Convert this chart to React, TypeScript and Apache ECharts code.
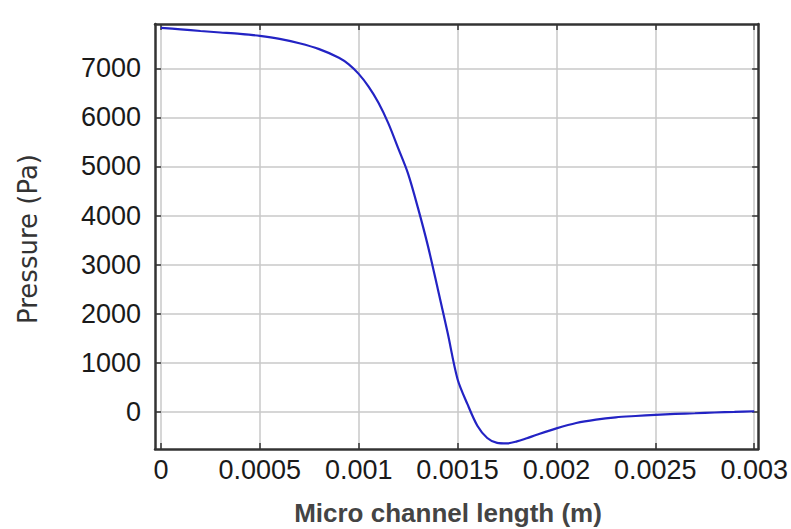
import { useEffect, useRef } from "react";
import * as echarts from "echarts";

// Pressure along the micro channel (position in m, pressure in Pa)
const lengthM = [
  0, 0.0001, 0.0002, 0.0003, 0.0004, 0.0005, 0.0006, 0.0007, 0.0008, 0.0009,
  0.00095, 0.001, 0.00105, 0.0011, 0.00115, 0.0012, 0.00125, 0.0013, 0.00135,
  0.0014, 0.00145, 0.0015, 0.00155, 0.0016, 0.00165, 0.0017, 0.00175, 0.0018,
  0.00185, 0.0019, 0.002, 0.0021, 0.0022, 0.0023, 0.0024, 0.0025, 0.0026,
  0.0027, 0.0028, 0.0029, 0.003,
];
const pressurePa = [
  7830, 7800, 7765, 7735, 7705, 7665, 7605, 7515, 7395, 7220,
  7085, 6890, 6630, 6300, 5880, 5370, 4850, 4150, 3380,
  2500, 1600, 660, 150, -290, -540, -640, -650, -610,
  -545, -475, -345, -235, -165, -118, -92, -70, -50,
  -35, -20, -8, 5,
];

const xTicks = [0, 0.0005, 0.001, 0.0015, 0.002, 0.0025, 0.003];
const yTicks = [0, 1000, 2000, 3000, 4000, 5000, 6000, 7000];

const X_MIN = -0.00003;
const X_MAX = 0.00302;
const Y_MIN = -765;
const Y_MAX = 7908;

export default function App() {
  const ref = useRef<HTMLDivElement>(null);

  useEffect(() => {
    if (!ref.current) return;
    const chart = echarts.init(ref.current, undefined, { renderer: "svg" });

    const frameLine = { show: true, lineStyle: { color: "#333", width: 2.5 } };
    const tickStyle = { lineStyle: { color: "#333", width: 1.5 } };

    chart.setOption({
      animation: false,
      backgroundColor: "#ffffff",
      grid: { left: 155, right: 31, top: 24, bottom: 80 },
      xAxis: [
        {
          type: "value",
          min: X_MIN,
          max: X_MAX,
          axisLine: { ...frameLine, onZero: false },
          axisTick: { show: true, inside: true, length: 6, customValues: xTicks, ...tickStyle },
          axisLabel: {
            customValues: xTicks,
            formatter: (v: number) => String(v),
            color: "#1a1a1a",
            fontFamily: "Liberation Sans, Arial, sans-serif",
            fontSize: 27,
            margin: 7,
          },
          splitLine: { show: true, lineStyle: { color: "#c9c9c9", width: 1.5 } },
        },
        {
          type: "value",
          position: "top",
          min: X_MIN,
          max: X_MAX,
          axisLine: { ...frameLine, onZero: false },
          axisTick: { show: true, inside: true, length: 6, customValues: xTicks, ...tickStyle },
          axisLabel: { show: false },
          splitLine: { show: false },
        },
      ],
      yAxis: [
        {
          type: "value",
          min: Y_MIN,
          max: Y_MAX,
          axisLine: { ...frameLine, onZero: false },
          axisTick: { show: true, inside: true, length: 6, customValues: yTicks, ...tickStyle },
          axisLabel: {
            customValues: yTicks,
            formatter: (v: number) => String(v),
            color: "#1a1a1a",
            fontFamily: "Liberation Sans, Arial, sans-serif",
            fontSize: 27,
            margin: 14,
          },
          splitLine: { show: true, lineStyle: { color: "#c9c9c9", width: 1.5 } },
        },
        {
          type: "value",
          position: "right",
          min: Y_MIN,
          max: Y_MAX,
          axisLine: { ...frameLine, onZero: false },
          axisTick: { show: true, inside: true, length: 6, customValues: yTicks, ...tickStyle },
          axisLabel: { show: false },
          splitLine: { show: false },
        },
      ],
      graphic: [
        {
          type: "text",
          x: 448,
          y: 513,
          style: {
            text: "Micro channel length (m)",
            fill: "#444",
            font: "bold 26px 'Liberation Sans', Arial, sans-serif",
            align: "center",
            verticalAlign: "middle",
          },
        },
        {
          type: "text",
          x: 28,
          y: 239,
          rotation: Math.PI / 2,
          style: {
            text: "Pressure (Pa)",
            fill: "#333",
            font: "26px 'DejaVu Sans', sans-serif",
            align: "center",
            verticalAlign: "middle",
          },
        },
      ],
      series: [
        {
          type: "line",
          xAxisIndex: 0,
          yAxisIndex: 0,
          data: lengthM.map((x, i) => [x, pressurePa[i]]),
          showSymbol: false,
          smooth: 0.3,
          lineStyle: { color: "#2323c4", width: 2.2 },
        },
      ],
    });

    return () => chart.dispose();
  }, []);

  return (
    <div
      ref={ref}
      style={{ position: "fixed", left: 0, top: 0, width: 791, height: 529 }}
    />
  );
}
